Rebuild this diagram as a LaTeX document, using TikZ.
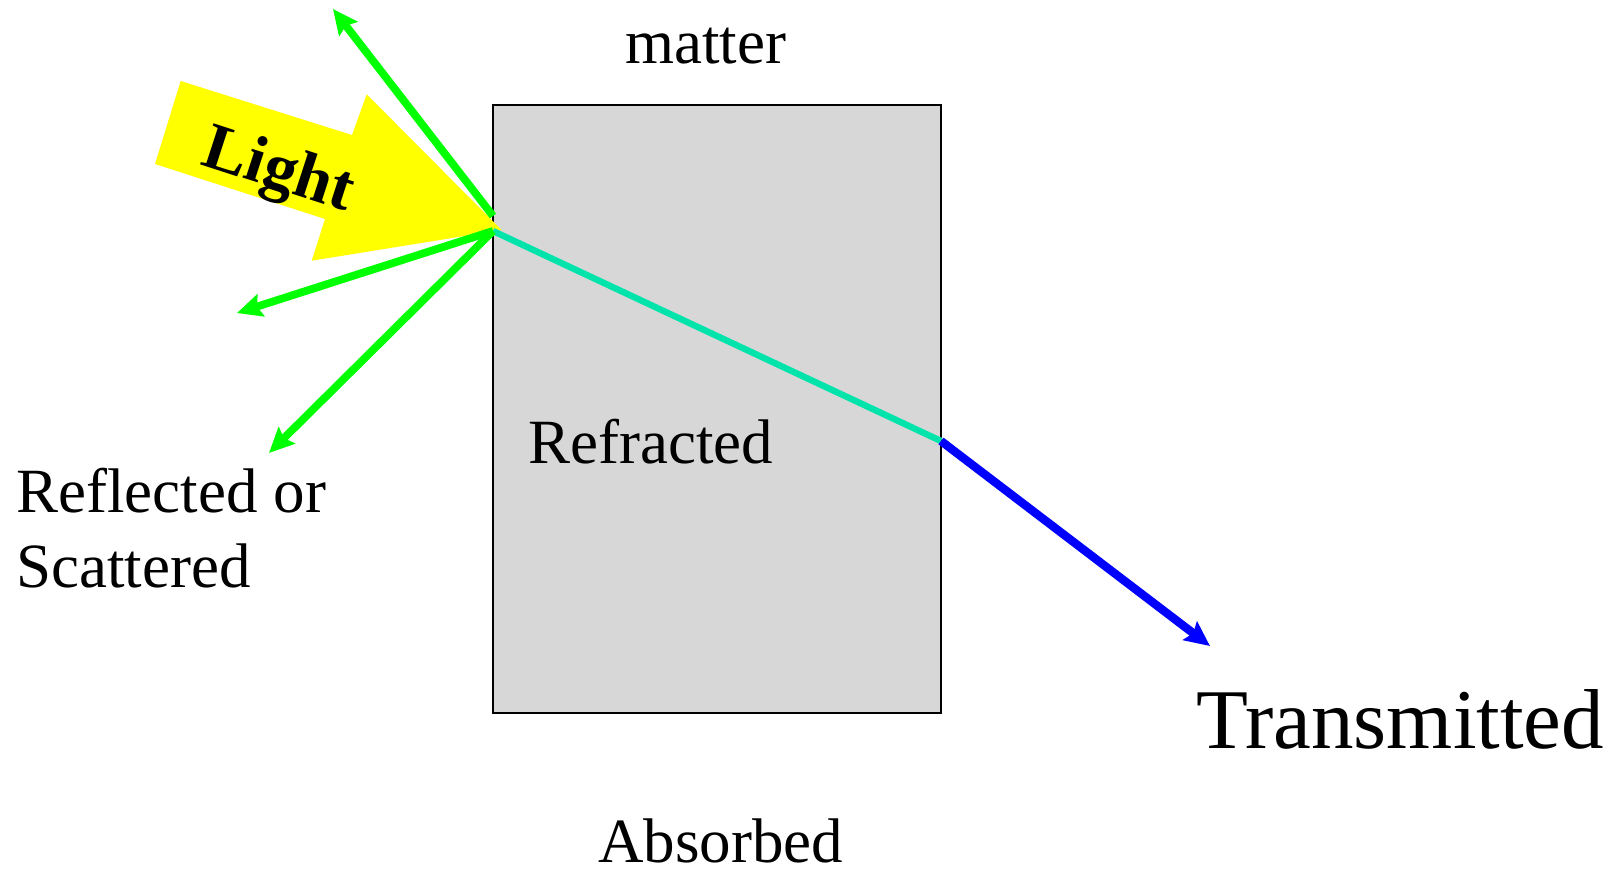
\documentclass[tikz,border=0pt]{standalone}
\usepackage{fontspec}
\setmainfont{Liberation Serif}
\usetikzlibrary{arrows.meta}
\definecolor{lightgreen}{RGB}{0,255,0}
\definecolor{refrcol}{RGB}{0,228,172}
\definecolor{boxgray}{RGB}{215,215,215}
\definecolor{lightyellow}{RGB}{255,255,0}
\tikzset{
  lbl/.style={inner sep=0pt, anchor=base west, font=\fontsize{31.5}{37.5}\selectfont},
  ray/.style={line width=3.9pt, -{Stealth[length=12.5pt,width=11.5pt,inset=2pt]}},
}
\begin{document}
\begin{tikzpicture}[x=0.5pt,y=-0.5pt]
\useasboundingbox (0,0) rectangle (1624,869);
% matter block
\coordinate (boxtl) at (493,105);
\coordinate (boxbr) at (941,713);
\draw[line width=1pt, fill=boxgray] (boxtl) rectangle (boxbr);
% light arrow
\fill[lightyellow] (180.7,81) -- (352,135) -- (366.7,94.3) -- (501.7,230)
  -- (311.7,260.7) -- (325,219) -- (155,164) -- cycle;
\node[inner sep=0pt, rotate=-18, font=\fontsize{33}{38}\selectfont\bfseries] (light) at (278,173) {Light};
% points
\coordinate (hitA) at (493,216);
\coordinate (hit) at (493,231);
\coordinate (exit) at (941,441);
\coordinate (up) at (333,9);
\coordinate (left1) at (237,313);
\coordinate (left2) at (269,453);
\coordinate (trans) at (1210,646);
% rays
\draw[line width=3.2pt, refrcol] (hit) -- (exit);
\draw[ray, lightgreen] (hitA) -- (up);
\draw[ray, lightgreen] (hit) -- (left1);
\draw[ray, lightgreen] (hit) -- (left2);
\draw[ray, blue, line width=4.2pt] (exit) -- (trans);
% labels
\node[lbl] (matter) at (625,63) {matter};
\node[lbl] (refr) at (528,463) {Refracted};
\node[lbl] (refl1) at (16,512) {Reflected or};
\node[lbl] (refl2) at (16,587) {Scattered};
\node[lbl] (abs) at (598,862) {Absorbed};
\node[lbl, font=\fontsize{42.5}{50}\selectfont] (transm) at (1196,748) {Transmitted};
\end{tikzpicture}
\end{document}
